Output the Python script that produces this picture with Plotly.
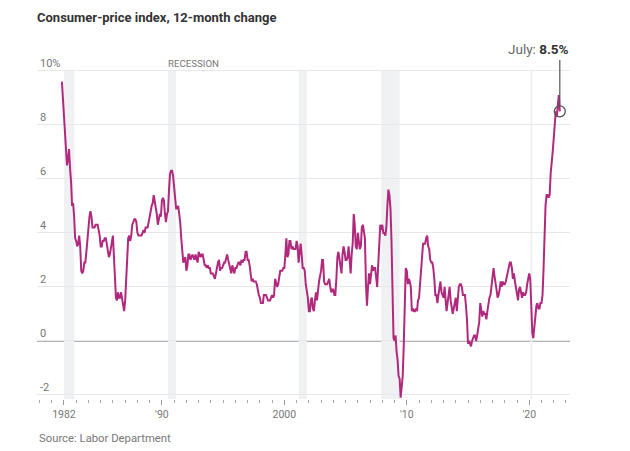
import pandas as pd
import plotly.graph_objects as go

# ---- Data ----
start_month = "1981-11-01"
cpi_yoy = [
    9.6, 8.9,
    8.4, 7.6, 6.8, 6.5, 6.7, 7.1, 6.4, 5.9, 5.0, 5.1, 4.6, 3.8,   # 1982
    3.7, 3.5, 3.6, 3.9, 3.5, 2.6, 2.5, 2.6, 2.9, 2.9, 3.3, 3.8,   # 1983
    4.2, 4.6, 4.8, 4.6, 4.2, 4.2, 4.2, 4.3, 4.3, 4.3, 4.1, 3.9,   # 1984
    3.5, 3.5, 3.7, 3.7, 3.8, 3.8, 3.6, 3.3, 3.1, 3.2, 3.5, 3.8,   # 1985
    3.9, 3.1, 2.2, 1.6, 1.5, 1.8, 1.6, 1.6, 1.8, 1.5, 1.3, 1.1,   # 1986
    1.5, 2.1, 3.0, 3.8, 3.9, 3.7, 3.9, 4.3, 4.4, 4.5, 4.5, 4.4,   # 1987
    4.0, 3.9, 3.9, 3.9, 3.9, 4.0, 4.1, 4.0, 4.2, 4.2, 4.2, 4.4,   # 1988
    4.7, 4.8, 5.0, 5.1, 5.4, 5.2, 5.0, 4.7, 4.3, 4.5, 4.7, 4.6,   # 1989
    5.2, 5.3, 5.2, 4.7, 4.4, 4.7, 4.8, 5.6, 6.2, 6.3, 6.3, 6.1,   # 1990
    5.7, 5.3, 4.9, 4.9, 5.0, 4.7, 4.4, 3.8, 3.4, 2.9, 3.0, 3.1,   # 1991
    2.6, 2.8, 3.2, 3.2, 3.0, 3.1, 3.2, 3.1, 3.0, 3.2, 3.0, 2.9,   # 1992
    3.3, 3.2, 3.1, 3.2, 3.2, 3.0, 2.8, 2.8, 2.7, 2.8, 2.7, 2.7,   # 1993
    2.5, 2.5, 2.5, 2.4, 2.3, 2.5, 2.8, 2.9, 3.0, 2.6, 2.7, 2.7,   # 1994
    2.8, 2.9, 2.9, 3.1, 3.2, 3.0, 2.8, 2.6, 2.5, 2.8, 2.6, 2.5,   # 1995
    2.7, 2.7, 2.8, 2.9, 2.9, 2.8, 3.0, 2.9, 3.0, 3.0, 3.3, 3.3,   # 1996
    3.0, 3.0, 2.8, 2.5, 2.2, 2.3, 2.2, 2.2, 2.2, 2.1, 1.8, 1.7,   # 1997
    1.6, 1.4, 1.4, 1.4, 1.7, 1.7, 1.7, 1.6, 1.5, 1.5, 1.5, 1.6,   # 1998
    1.7, 1.6, 1.7, 2.3, 2.1, 2.0, 2.1, 2.3, 2.6, 2.6, 2.6, 2.7,   # 1999
    2.7, 3.2, 3.8, 3.1, 3.2, 3.7, 3.7, 3.4, 3.5, 3.4, 3.4, 3.4,   # 2000
    3.7, 3.5, 2.9, 3.3, 3.6, 3.2, 2.7, 2.7, 2.6, 2.1, 1.9, 1.6,   # 2001
    1.1, 1.1, 1.5, 1.6, 1.2, 1.1, 1.5, 1.8, 1.5, 2.0, 2.2, 2.4,   # 2002
    2.6, 3.0, 3.0, 2.2, 2.1, 2.1, 2.1, 2.2, 2.3, 2.0, 1.8, 1.9,   # 2003
    1.9, 1.7, 1.7, 2.3, 3.1, 3.3, 3.0, 2.7, 2.5, 3.2, 3.5, 3.3,   # 2004
    3.0, 3.0, 3.1, 3.5, 2.8, 2.5, 3.2, 3.6, 4.7, 4.3, 3.5, 3.4,   # 2005
    4.0, 3.6, 3.4, 3.5, 4.2, 4.3, 4.1, 3.8, 2.1, 1.3, 2.0, 2.5,   # 2006
    2.1, 2.4, 2.8, 2.6, 2.7, 2.7, 2.4, 2.0, 2.8, 3.5, 4.3, 4.1,   # 2007
    4.3, 4.0, 4.0, 3.9, 4.2, 5.0, 5.6, 5.4, 4.9, 3.7, 1.1, 0.1,   # 2008
    0.0, 0.2, -0.4, -0.7, -1.3, -1.4, -2.1, -1.5, -1.3, -0.2, 1.8, 2.7,  # 2009
    2.6, 2.1, 2.3, 2.2, 2.0, 1.1, 1.2, 1.1, 1.1, 1.2, 1.1, 1.5,   # 2010
    1.6, 2.1, 2.7, 3.2, 3.6, 3.6, 3.6, 3.8, 3.9, 3.5, 3.4, 3.0,   # 2011
    2.9, 2.9, 2.7, 2.3, 1.7, 1.7, 1.4, 1.7, 2.0, 2.2, 1.8, 1.7,   # 2012
    1.6, 2.0, 1.5, 1.1, 1.4, 1.8, 2.0, 1.5, 1.2, 1.0, 1.2, 1.5,   # 2013
    1.6, 1.1, 1.5, 2.0, 2.1, 2.1, 2.0, 1.7, 1.7, 1.7, 1.3, 0.8,   # 2014
    -0.1, 0.0, -0.1, -0.2, 0.0, 0.1, 0.2, 0.2, 0.0, 0.2, 0.5, 0.7,  # 2015
    1.4, 1.0, 0.9, 1.1, 1.0, 1.0, 0.8, 1.1, 1.5, 1.6, 1.7, 2.1,   # 2016
    2.5, 2.7, 2.4, 2.2, 1.9, 1.6, 1.7, 1.9, 2.2, 2.0, 2.2, 2.1,   # 2017
    2.1, 2.2, 2.4, 2.5, 2.8, 2.9, 2.9, 2.7, 2.3, 2.5, 2.2, 1.9,   # 2018
    1.6, 1.5, 1.9, 2.0, 1.8, 1.6, 1.8, 1.7, 1.7, 1.8, 2.1, 2.3,   # 2019
    2.5, 2.3, 1.5, 0.3, 0.1, 0.6, 1.0, 1.3, 1.4, 1.2, 1.2, 1.4,   # 2020
    1.4, 1.7, 2.6, 4.2, 5.0, 5.4, 5.4, 5.3, 5.4, 6.2, 6.8, 7.0,   # 2021
    7.5, 7.9, 8.5, 8.3, 8.6, 9.1, 8.5,                            # 2022
]
recession_starts = ["1982-01-01", "1990-07-01", "2001-03-01", "2007-12-01", "2020-02-01"]
recession_ends = ["1982-11-01", "1991-03-01", "2001-11-01", "2009-06-01", "2020-04-01"]
x_tick_dates = ["1982-01-01", "1990-01-01", "2000-01-01", "2010-01-01", "2020-01-01"]
x_tick_labels = ["1982", "'90", "2000", "'10", "'20"]
y_tick_vals = [-2, 0, 2, 4, 6, 8, 10]
y_tick_labels = ["-2", "0", "2", "4", "6", "8", "10%"]
latest_label = "July"
latest_value = 8.5

dates = pd.date_range(start_month, periods=len(cpi_yoy), freq="MS")

LINE = "#b0297c"
BAND = "#f0f1f3"
FONT = "Roboto"

fig = go.Figure()

for s, e in zip(recession_starts, recession_ends):
    fig.add_shape(type="rect", xref="x", yref="y", x0=s, x1=e, y0=-2.15, y1=10,
                  fillcolor=BAND, line_width=0, layer="below")

fig.add_hline(y=0, line=dict(color="#6b6b6b", width=1.2), layer="below")

fig.add_trace(go.Scatter(x=dates, y=cpi_yoy, mode="lines",
                         line=dict(color=LINE, width=2), hoverinfo="x+y",
                         showlegend=False))

# latest point marker
fig.add_trace(go.Scatter(x=[dates[-1]], y=[latest_value], mode="markers",
                         marker=dict(size=11, color="rgba(0,0,0,0)",
                                     line=dict(color="#555555", width=1.3)),
                         showlegend=False, hoverinfo="skip", cliponaxis=False))
fig.add_shape(type="line", xref="x", yref="y", x0=dates[-1], x1=dates[-1],
              y0=latest_value + 0.2, y1=10.4, line=dict(color="#555555", width=1.2))
fig.add_annotation(x=dates[-1], y=10.4, xref="x", yref="y",
                   text=f"<span style='color:#666666'>{latest_label}: </span><b>{latest_value}%</b>",
                   showarrow=False, xanchor="right", yanchor="bottom", xshift=11, yshift=1,
                   font=dict(family=FONT, size=13.5, color="#333333"))

fig.add_annotation(x=recession_starts[1], y=10, xref="x", yref="y",
                   text="RECESSION", showarrow=False, xanchor="left", yanchor="bottom",
                   xshift=-2, yshift=0,
                   font=dict(family=FONT, size=9.7, color="#777777"))

fig.update_layout(
    width=630, height=451,
    margin=dict(l=37, r=60, t=60, b=52),
    paper_bgcolor="white", plot_bgcolor="white",
    font=dict(family=FONT, color="#777777"),
    title=dict(text="<b>Consumer-price index, 12-month change</b>",
               x=37 / 630, xanchor="left", y=1 - 17 / 451, yanchor="middle",
               font=dict(family=FONT, size=13, color="#333333")),
    xaxis=dict(
        type="date",
        range=["1979-10-20", "2023-05-01"],
        showgrid=False, zeroline=False, showline=False,
        tickmode="array", tickvals=x_tick_dates, ticktext=x_tick_labels,
        ticks="outside", ticklen=5, tickwidth=1, tickcolor="#999999",
        tickfont=dict(family=FONT, size=10.5, color="#777777"),
        minor=dict(ticks="outside", ticklen=3, tickwidth=1, tickcolor="#aaaaaa",
                   dtick="M12", tick0="1982-01-01", showgrid=False),
        fixedrange=True,
    ),
    yaxis=dict(
        range=[-2.15, 10.4],
        tickmode="array", tickvals=y_tick_vals, ticktext=y_tick_labels,
        showgrid=True, gridcolor="#e8e8e8", gridwidth=1,
        zeroline=False, showline=False, ticks="",
        ticklabelposition="inside top", ticklabeloverflow="allow",
        tickfont=dict(family=FONT, size=11, color="#777777"),
        fixedrange=True,
    ),
)

fig.add_annotation(x=0, y=-(439 - 399) / 339, xref="paper", yref="paper",
                   text="Source: Labor Department", showarrow=False,
                   xanchor="left", yanchor="middle",
                   font=dict(family=FONT, size=11.3, color="#777777"))

fig.write_html("out.html", config={"displayModeBar": False},
               post_script="document.body.style.margin='0';")
